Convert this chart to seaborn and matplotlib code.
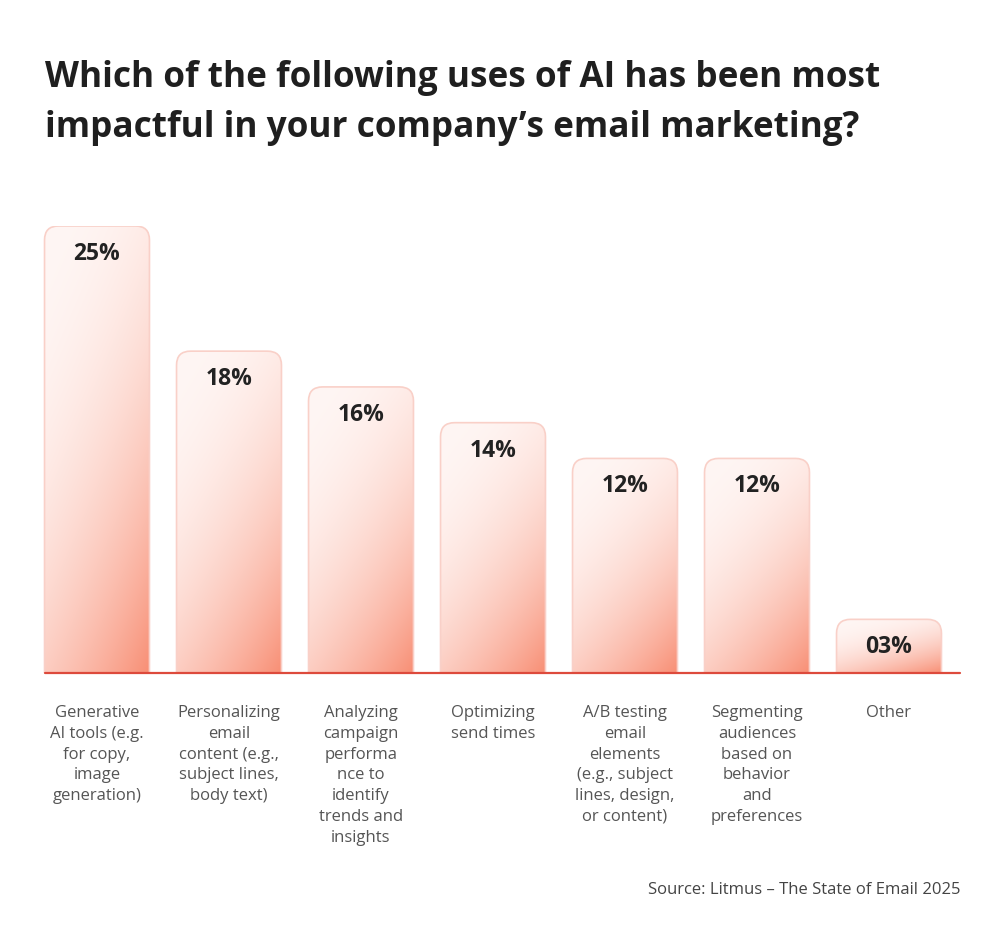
import numpy as np
import pandas as pd
import matplotlib
matplotlib.use("Agg")
import matplotlib.pyplot as plt
import seaborn as sns
from matplotlib.path import Path
from matplotlib.patches import PathPatch
from matplotlib.colors import to_rgb

# data
categories = [
    "Generative\nAI tools (e.g.\nfor copy,\nimage\ngeneration)",
    "Personalizing\nemail\ncontent (e.g.,\nsubject lines,\nbody text)",
    "Analyzing\ncampaign\nperforma\nnce to\nidentify\ntrends and\ninsights",
    "Optimizing\nsend times",
    "A/B testing\nemail\nelements\n(e.g., subject\nlines, design,\nor content)",
    "Segmenting\naudiences\nbased on\nbehavior\nand\npreferences",
    "Other",
]
values = [25, 18, 16, 14, 12, 12, 3]
value_labels = ["25%", "18%", "16%", "14%", "12%", "12%", "03%"]

title = "Which of the following uses of AI has been most\nimpactful in your company\u2019s email marketing?"
source = "Source: Litmus \u2013 The State of Email 2025"

df = pd.DataFrame({"category": categories, "value": values})

sns.set_theme(style="white")
plt.rcParams["font.family"] = ["Open Sans", "DejaVu Sans"]

W, H = 990, 930
fig = plt.figure(figsize=(W / 100, H / 100), dpi=100)
fig.patch.set_facecolor("white")

# axes placed in pixels: baseline at y=673, 25% top at y=226
ax_left, ax_right = 31, 960
ax_bottom, ax_top = 673, 226
ax = fig.add_axes([ax_left / W, (H - ax_bottom) / H,
                   (ax_right - ax_left) / W, (ax_bottom - ax_top) / H])
ax.set_facecolor("white")

sns.barplot(data=df, x="category", y="value", width=0.795, ax=ax,
            color="white", linewidth=0, saturation=1)
ax.set_ylim(0, 25)
ax.set_xlim(-0.5, 6.5 + 5 / 132)

# gradient colours
c_light = np.array(to_rgb("#fff6f4"))
c_dark = np.array(to_rgb("#f88f75"))

px_x = (ax_right - ax_left) / (7 + 5 / 132)
px_y = (ax_bottom - ax_top) / 25
rad = 14

for patch, lab in zip(ax.patches, value_labels):
    x0 = patch.get_x()
    w = patch.get_width()
    h = patch.get_height()
    x1 = x0 + w
    patch.set_visible(False)
    rx = rad / px_x
    ry = min(rad / px_y, h * 0.5)
    verts = [(x0, 0), (x0, h - ry), (x0, h), (x0 + rx, h),
             (x1 - rx, h), (x1, h), (x1, h - ry), (x1, 0), (x0, 0)]
    codes = [Path.MOVETO, Path.LINETO, Path.CURVE3, Path.CURVE3,
             Path.LINETO, Path.CURVE3, Path.CURVE3, Path.LINETO, Path.CLOSEPOLY]
    path = Path(verts, codes)

    # per bar gradient: pale at top, salmon towards the bottom right
    ny, nx = 200, 60
    u = np.linspace(0, 1, nx)[None, :]
    v = np.linspace(1, 0, ny)[:, None]
    s = np.clip(0.65 * (1 - v) + 0.35 * u, 0, 1)
    t = s ** 2.1
    img = c_light[None, None, :] * (1 - t[..., None]) + c_dark[None, None, :] * t[..., None]
    im = ax.imshow(img, extent=[x0, x1, 0, h], aspect="auto",
                   interpolation="bilinear", zorder=2)
    border = PathPatch(path, facecolor="none", edgecolor="#f9d0c8",
                       linewidth=1.2, zorder=3)
    ax.add_patch(border)
    im.set_clip_path(border)

    ax.annotate(lab, (x0 + w / 2, h), xytext=(0, -28), textcoords="offset pixels",
                ha="center", va="center", fontsize=16.5, fontweight="bold",
                color="#222222", zorder=4)

ax.set_xlim(-0.5, 6.5 + 5 / 132)
ax.set_ylim(0, 25)
ax.axhline(0, xmin=(45 - ax_left) / (ax_right - ax_left), xmax=1,
           color="#dd4a3c", linewidth=1.6, zorder=5, clip_on=False)

for sp in ax.spines.values():
    sp.set_visible(False)
ax.set_yticks([])
ax.set_xlabel("")
ax.set_ylabel("")
ax.tick_params(axis="x", length=0, pad=23)
ax.set_xticks(range(len(categories)))
ax.set_xticklabels(categories, fontsize=12, color="#555555",
                   linespacing=1.4, va="top")

fig.text(45 / W, 1 - 60 / H, title, ha="left", va="top", fontsize=25.3,
         fontweight="bold", color="#1f1f1f", linespacing=1.5)
fig.text(960 / W, 1 - 890 / H, source, ha="right", va="center",
         fontsize=12, color="#444444")

fig.savefig("out.png", dpi=100, facecolor="white")
